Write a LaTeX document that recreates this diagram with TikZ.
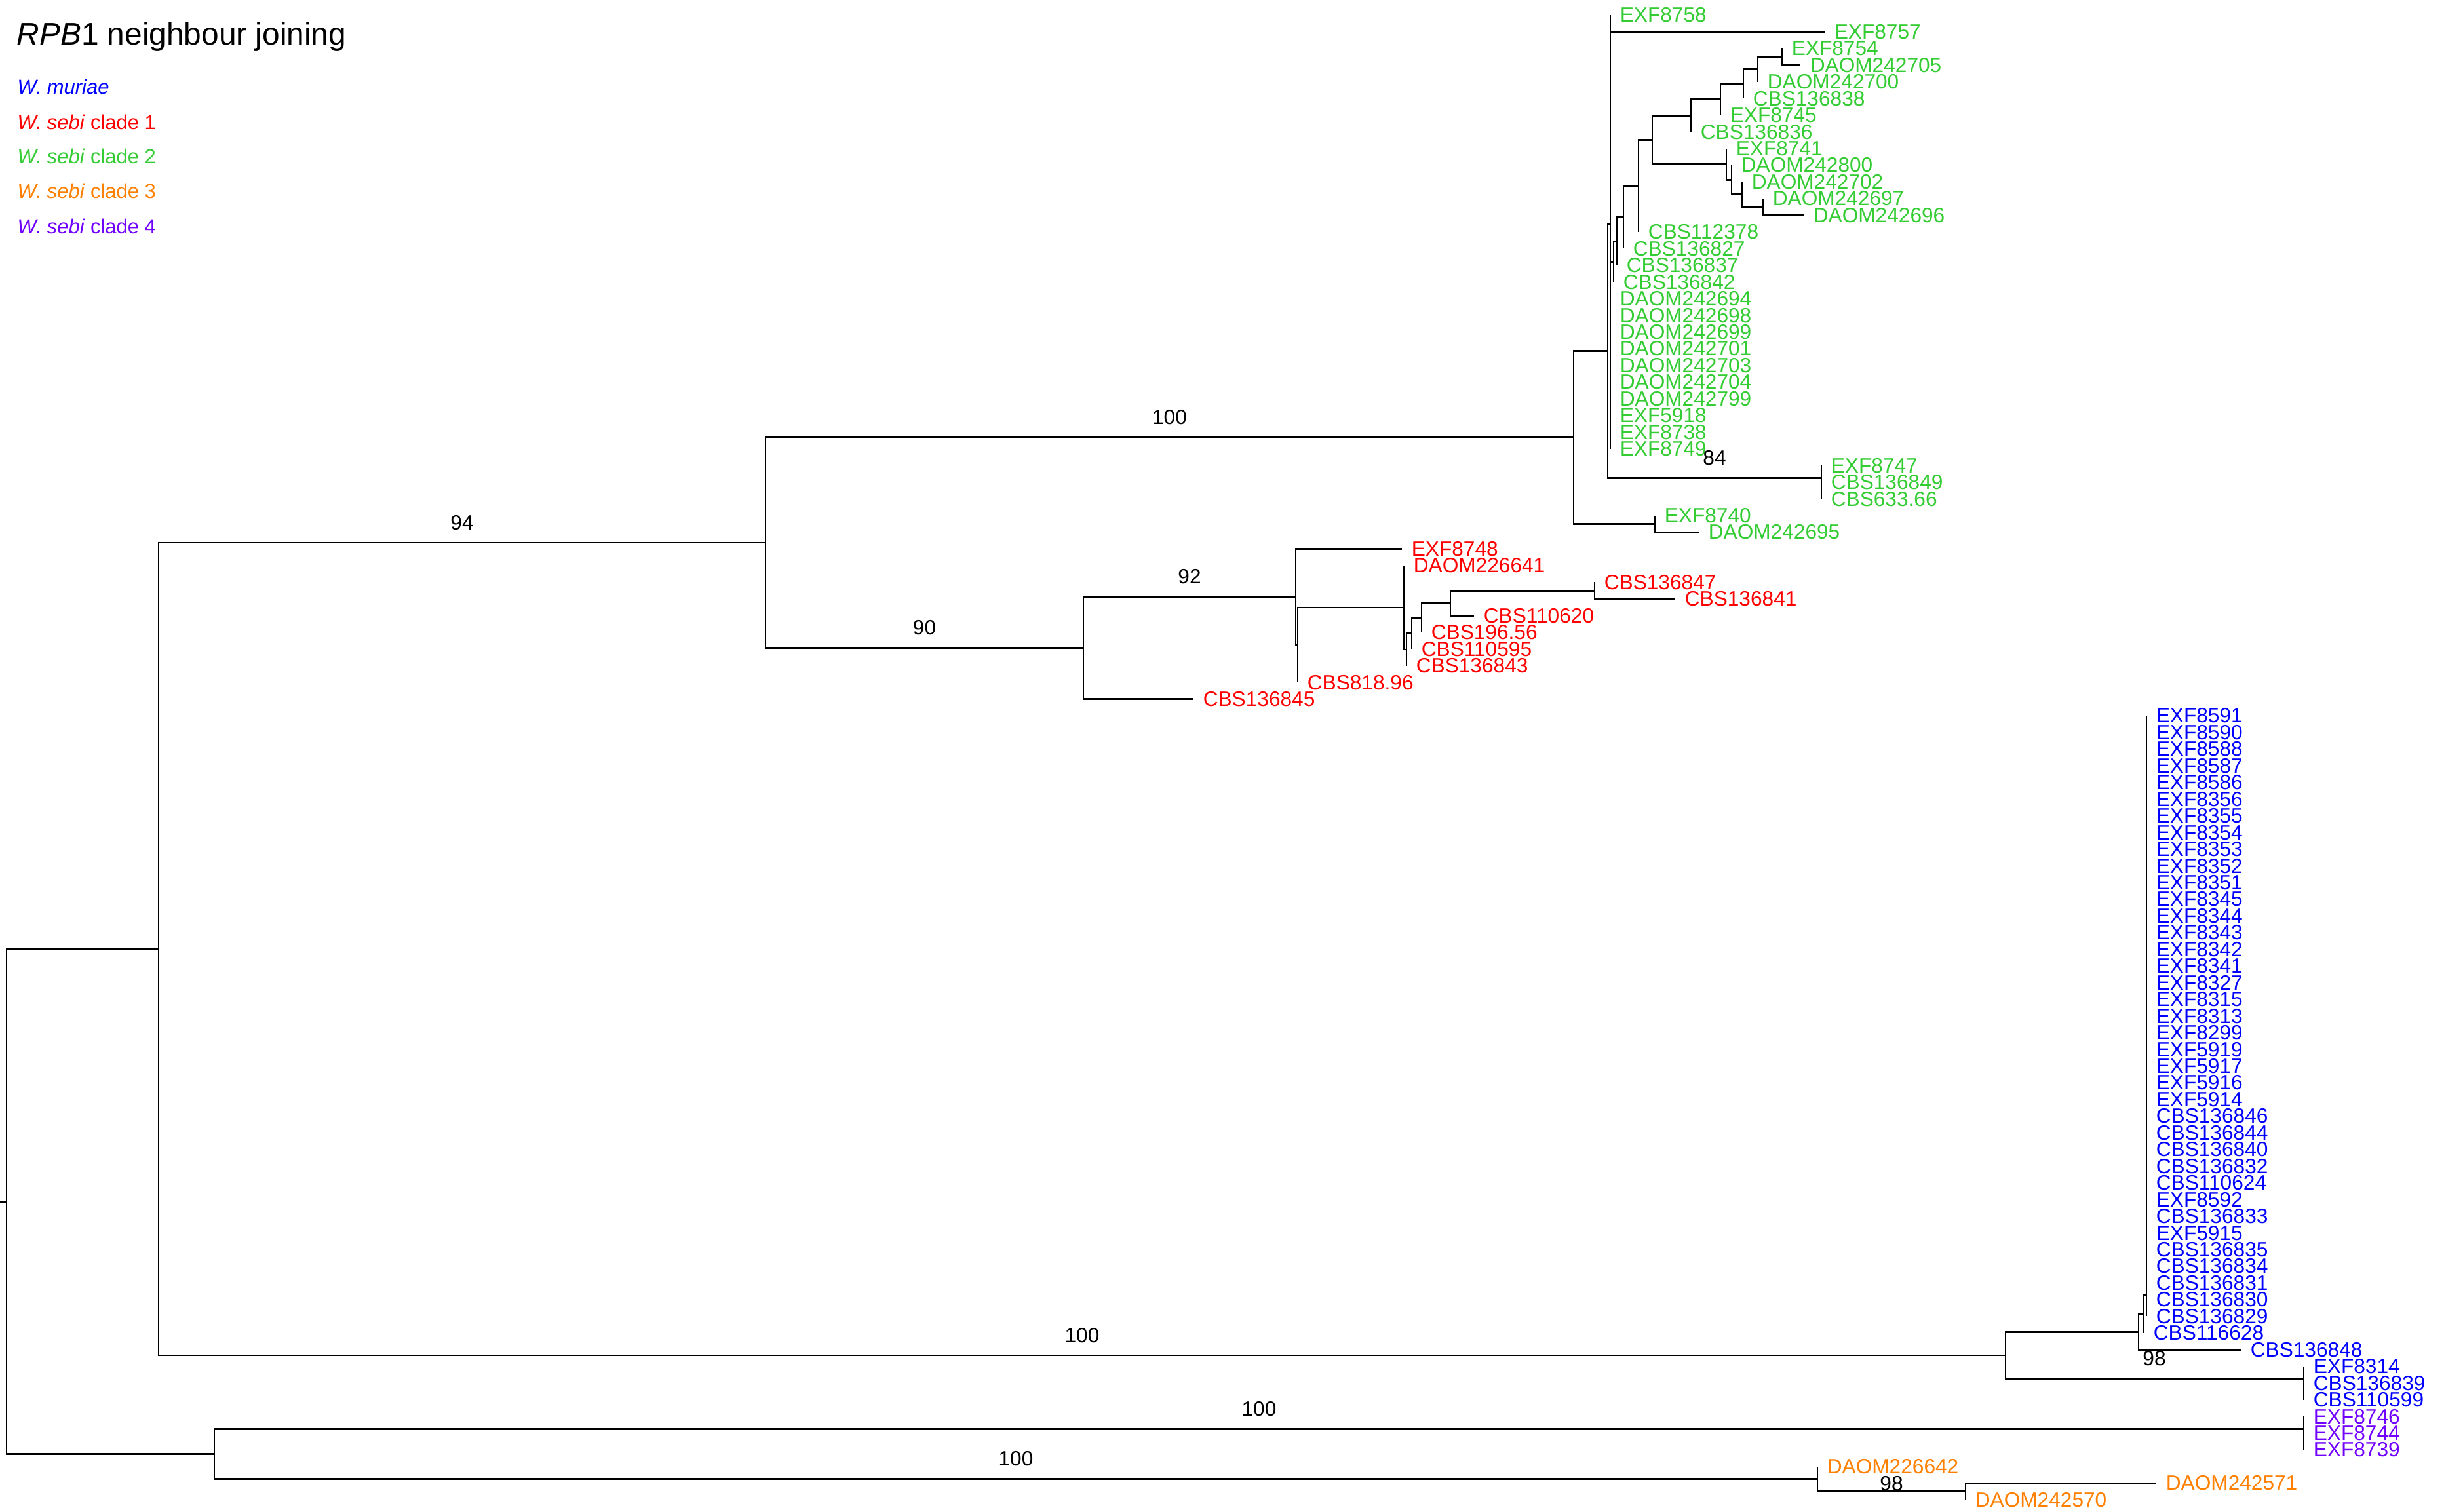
\documentclass[tikz,border=0pt]{standalone}
\usepackage{fontspec}
\setmainfont{Liberation Sans}
\usetikzlibrary{positioning}
\definecolor{muriae}{RGB}{0,0,255}
\definecolor{sebione}{RGB}{255,0,0}
\definecolor{sebitwo}{RGB}{51,204,51}
\definecolor{sebithree}{RGB}{255,128,0}
\definecolor{sebifour}{RGB}{112,0,255}

\begin{document}
\begin{tikzpicture}[
  x=0.01cm, y=-0.2544cm,
  branch/.style={line width=0.75pt},
  tip/.style={right=4pt, inner sep=0pt, font=\fontsize{9}{9}\selectfont},
  boot/.style={inner sep=0pt, font=\fontsize{9}{9}\selectfont},
  legend/.style={anchor=base west, inner sep=0pt, font=\fontsize{8.8}{9}\selectfont}
]
  \useasboundingbox (0,-0.904) rectangle (3729,89.70);

  % title and legend
  \node[anchor=base west, inner sep=0pt, font=\fontsize{13.6}{14}\selectfont] (title) at (25,1.77) {\textit{RPB}1 neighbour joining};
  \node[legend, text=muriae] (leg1) at (26,4.72) {\textit{W. muriae}};
  \node[legend, text=sebione] (leg2) at (26,6.84) {\textit{W. sebi} clade 1};
  \node[legend, text=sebitwo] (leg3) at (26,8.88) {\textit{W. sebi} clade 2};
  \node[legend, text=sebithree] (leg4) at (26,10.97) {\textit{W. sebi} clade 3};
  \node[legend, text=sebifour] (leg5) at (26,13.09) {\textit{W. sebi} clade 4};

  % tips, one row each
  \foreach \r/\x/\lab in {0/2457/EXF8758, 1/2784/EXF8757, 2/2719/EXF8754, 3/2747/DAOM242705,
      4/2682/DAOM242700, 5/2660/CBS136838, 6/2625/EXF8745, 7/2580/CBS136836, 8/2634/EXF8741,
      9/2642/DAOM242800, 10/2658/DAOM242702, 11/2690/DAOM242697, 12/2752/DAOM242696,
      13/2500/CBS112378, 14/2477/CBS136827, 15/2467/CBS136837, 16/2462/CBS136842,
      17/2457/DAOM242694, 18/2457/DAOM242698, 19/2457/DAOM242699, 20/2457/DAOM242701,
      21/2457/DAOM242703, 22/2457/DAOM242704, 23/2457/DAOM242799, 24/2457/EXF5918,
      25/2457/EXF8738, 26/2457/EXF8749, 27/2779/EXF8747, 28/2779/CBS136849, 29/2779/CBS633.66,
      30/2525/EXF8740, 31/2592/DAOM242695} {
    \coordinate (t\r) at (\x,\r);
    \node[tip, text=sebitwo] (l\r) at (t\r) {\lab};
  }
  \foreach \r/\x/\lab in {32/2139/EXF8748, 33/2142/DAOM226641, 34/2433/CBS136847,
      35/2556/CBS136841, 36/2249/CBS110620, 37/2169/CBS196.56, 38/2154/CBS110595,
      39/2146/CBS136843, 40/1980/CBS818.96, 41/1821/CBS136845} {
    \coordinate (t\r) at (\x,\r);
    \node[tip, text=sebione] (l\r) at (t\r) {\lab};
  }
  \foreach \lab [count=\r from 42] in {EXF8591, EXF8590, EXF8588, EXF8587, EXF8586, EXF8356,
      EXF8355, EXF8354, EXF8353, EXF8352, EXF8351, EXF8345, EXF8344, EXF8343, EXF8342, EXF8341,
      EXF8327, EXF8315, EXF8313, EXF8299, EXF5919, EXF5917, EXF5916, EXF5914, CBS136846,
      CBS136844, CBS136840, CBS136832, CBS110624, EXF8592, CBS136833, EXF5915, CBS136835,
      CBS136834, CBS136831, CBS136830, CBS136829} {
    \coordinate (t\r) at (3275,\r);
    \node[tip, text=muriae] (l\r) at (t\r) {\lab};
  }
  \foreach \r/\x/\lab in {79/3271/CBS116628, 80/3419/CBS136848, 81/3515/EXF8314,
      82/3515/CBS136839, 83/3515/CBS110599} {
    \coordinate (t\r) at (\x,\r);
    \node[tip, text=muriae] (l\r) at (t\r) {\lab};
  }
  \foreach \r/\x/\lab in {84/3515/EXF8746, 85/3515/EXF8744, 86/3515/EXF8739} {
    \coordinate (t\r) at (\x,\r);
    \node[tip, text=sebifour] (l\r) at (t\r) {\lab};
  }
  \foreach \r/\x/\lab in {87/2773/DAOM226642, 88/3290/DAOM242571, 89/2999/DAOM242570} {
    \coordinate (t\r) at (\x,\r);
    \node[tip, text=sebithree] (l\r) at (t\r) {\lab};
  }

  % inner nodes
  \coordinate (stub) at (0,71.12);
  \coordinate (root) at (10,71.12);
  \coordinate (nA) at (242,55.99);
  \coordinate (nB) at (1168,31.63);
  \coordinate (nPO) at (327,86.25);
  % clade 2
  \coordinate (gC) at (2401,25.31);
  \coordinate (gD) at (2453,20.13);
  \coordinate (gX) at (2457,12.5);
  \coordinate (gS) at (2462,14.78);
  \coordinate (gQ) at (2467,13.56);
  \coordinate (gO) at (2477,12.12);
  \coordinate (gP) at (2500,10.24);
  \coordinate (gE) at (2521,7.48);
  \coordinate (gF) at (2580,6.03);
  \coordinate (gG) at (2625,5.06);
  \coordinate (gH) at (2660,4.13);
  \coordinate (gI) at (2682,3.25);
  \coordinate (gJ) at (2719,2.5);
  \coordinate (gK) at (2634,8.94);
  \coordinate (gL) at (2642,9.88);
  \coordinate (gM) at (2658,10.75);
  \coordinate (gN) at (2690,11.5);
  \coordinate (g84) at (2779,27.75);
  \coordinate (gV) at (2525,30.5);
  % clade 1
  \coordinate (rA) at (1653,37.94);
  \coordinate (rB) at (1977,34.88);
  \coordinate (rC) at (1980,37.76);
  \coordinate (rD) at (2142,35.52);
  \coordinate (rE) at (2146,38.03);
  \coordinate (rF) at (2154,37.06);
  \coordinate (rG) at (2169,36.13);
  \coordinate (rH) at (2213,35.25);
  \coordinate (rI) at (2433,34.5);
  % muriae
  \coordinate (bA) at (3060,80.34);
  \coordinate (bB) at (3263,78.94);
  \coordinate (bC) at (3271,77.87);
  \coordinate (bD) at (3275,76.74);
  \coordinate (bE) at (3515,81.75);
  % clades 3 and 4
  \coordinate (pA) at (3515,84.75);
  \coordinate (oA) at (2773,87.75);
  \coordinate (oB) at (2999,88.5);

  % backbone
  \draw[branch] (stub) -- (root);
  \draw[branch] (root) |- (nA) (root) |- (nPO);
  \draw[branch] (nA) |- node[boot, pos=.75, above=5.2pt] {94} (nB);
  \draw[branch] (nA) |- node[boot, pos=.75, above=5.2pt] {100} (bA);
  \draw[branch] (nB) |- node[boot, pos=.75, above=5.2pt] {100} (gC);
  \draw[branch] (nB) |- node[boot, pos=.75, above=5.2pt] {90} (rA);

  % clade 2
  \draw[branch] (gC) |- (gD) (gC) |- (gV);
  \draw[branch] (gD) |- (gX) (gD) |- node[boot, pos=.75, above=5.2pt] {84} (g84);
  \draw[branch] (gX) |- (t0) (gX) |- (t1) (gX) |- (gS) (gX) |- (t26);
  \draw[branch] (gS) |- (gQ) (gS) |- (t16);
  \draw[branch] (gQ) |- (gO) (gQ) |- (t15);
  \draw[branch] (gO) |- (gP) (gO) |- (t14);
  \draw[branch] (gP) |- (gE) (gP) |- (t13);
  \draw[branch] (gE) |- (gF) (gE) |- (gK);
  \draw[branch] (gF) |- (gG) (gF) |- (t7);
  \draw[branch] (gG) |- (gH) (gG) |- (t6);
  \draw[branch] (gH) |- (gI) (gH) |- (t5);
  \draw[branch] (gI) |- (gJ) (gI) |- (t4);
  \draw[branch] (gJ) |- (t2) (gJ) |- (t3);
  \draw[branch] (gK) |- (t8) (gK) |- (gL);
  \draw[branch] (gL) |- (t9) (gL) |- (gM);
  \draw[branch] (gM) |- (t10) (gM) |- (gN);
  \draw[branch] (gN) |- (t11) (gN) |- (t12);
  \draw[branch] (g84) |- (t27) (g84) |- (t29);
  \draw[branch] (gV) |- (t30) (gV) |- (t31);

  % clade 1
  \draw[branch] (rA) |- node[boot, pos=.75, above=5.2pt] {92} (rB) (rA) |- (t41);
  \draw[branch] (rB) |- (t32) (rB) |- (rC);
  \draw[branch] (rC) |- (rD) (rC) |- (t40);
  \draw[branch] (rD) |- (t33) (rD) |- (rE);
  \draw[branch] (rE) |- (rF) (rE) |- (t39);
  \draw[branch] (rF) |- (rG) (rF) |- (t38);
  \draw[branch] (rG) |- (rH) (rG) |- (t37);
  \draw[branch] (rH) |- (rI) (rH) |- (t36);
  \draw[branch] (rI) |- (t34) (rI) |- (t35);

  % muriae
  \draw[branch] (bA) |- (bB) (bA) |- (bE);
  \draw[branch] (bB) |- (bC) (bB) |- (t80);
  \draw[branch] (bC) |- (bD) (bC) |- (t79);
  \draw[branch] (bD) |- (t42) (bD) |- (t78);
  \draw[branch] (bE) |- (t81) (bE) |- (t83);
  \node[boot] (b98) at (3287,80.54) {98};

  % clades 3 and 4
  \draw[branch] (nPO) |- node[boot, pos=.75, above=5.2pt] {100} (pA);
  \draw[branch] (nPO) |- node[boot, pos=.75, above=5.2pt] {100} (oA);
  \draw[branch] (pA) |- (t84) (pA) |- (t86);
  \draw[branch] (oA) |- (t87) (oA) |- node[boot, pos=.75, above=0pt] {98} (oB);
  \draw[branch] (oB) |- (t88) (oB) |- (t89);

\end{tikzpicture}
\end{document}
